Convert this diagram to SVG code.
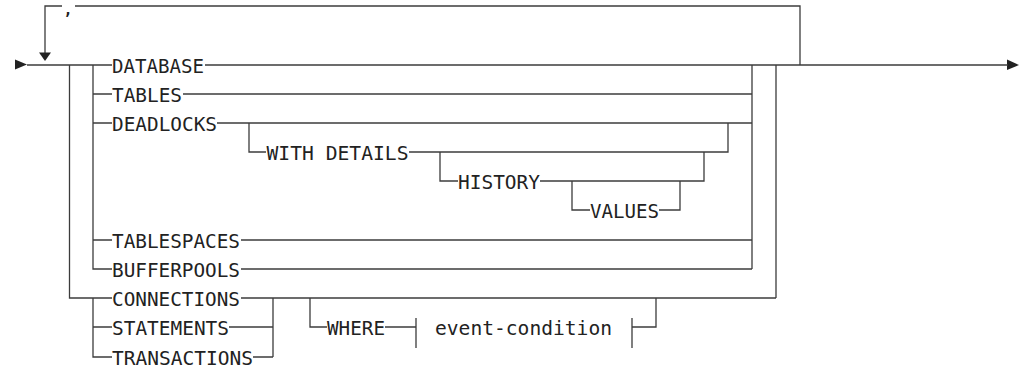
<svg xmlns="http://www.w3.org/2000/svg" width="1026" height="373" viewBox="0 0 1026 373">
<style>
.c{fill:none;stroke:#3c3c3c;stroke-width:1.3}
.t{font-family:"DejaVu Sans Mono","Liberation Mono",monospace;font-size:20px;fill:#222}
.a{fill:#222}
</style>
<rect width="1026" height="373" fill="#fff"/>
<g id="connectors">
<path class="c" d="M45,53V6H62M75,6H800V65"/>
<polygon class="a" points="39,52.5 51,52.5 45,61"/>
<polygon class="a" points="15,59.5 15,69.5 27,64.5"/>
<polygon class="a" points="1007,59.5 1007,70 1019,65"/>
<path class="c" d="M27,65H112M205,65H1008"/>
<path class="c" d="M69.5,65V298H112"/>
<path class="c" d="M93,65V269H112M93,94H112M93,123H112M93,240H112"/>
<path class="c" d="M183,94H752M217,123H752M241,240H752M241,269H752M752,65V269"/>
<path class="c" d="M241,298H776M776,65V298"/>
<path class="c" d="M249,123V152H266M409,152H728V123"/>
<path class="c" d="M440,152V181H458M540,181H704V152"/>
<path class="c" d="M572,181V210H590M659,210H680V181"/>
<path class="c" d="M93,298V357H112M93,327H112M229,327H273M253,357H273M273,298V357"/>
<path class="c" d="M310,298V327H327M385,327H416M632,327H656V298"/>
</g>
<g id="sep"><text class="t" x="68" y="14.5" text-anchor="middle" style="font-size:15px;font-weight:bold">,</text></g>
<g id="database"><text class="t" x="112" y="72.5" textLength="92" lengthAdjust="spacingAndGlyphs">DATABASE</text></g>
<g id="tables"><text class="t" x="112" y="101.5" textLength="70" lengthAdjust="spacingAndGlyphs">TABLES</text></g>
<g id="deadlocks"><text class="t" x="112" y="130.5" textLength="105" lengthAdjust="spacingAndGlyphs">DEADLOCKS</text></g>
<g id="withdetails"><text class="t" x="266.5" y="159.5" textLength="142" lengthAdjust="spacingAndGlyphs">WITH DETAILS</text></g>
<g id="history"><text class="t" x="458" y="188.5" textLength="82" lengthAdjust="spacingAndGlyphs">HISTORY</text></g>
<g id="values"><text class="t" x="590" y="217.5" textLength="69" lengthAdjust="spacingAndGlyphs">VALUES</text></g>
<g id="tablespaces"><text class="t" x="112" y="247.5" textLength="128" lengthAdjust="spacingAndGlyphs">TABLESPACES</text></g>
<g id="bufferpools"><text class="t" x="112" y="276.5" textLength="128" lengthAdjust="spacingAndGlyphs">BUFFERPOOLS</text></g>
<g id="connections"><text class="t" x="112" y="305.5" textLength="128" lengthAdjust="spacingAndGlyphs">CONNECTIONS</text></g>
<g id="statements"><text class="t" x="112" y="334.5" textLength="117" lengthAdjust="spacingAndGlyphs">STATEMENTS</text></g>
<g id="transactions"><text class="t" x="112" y="364.5" textLength="141" lengthAdjust="spacingAndGlyphs">TRANSACTIONS</text></g>
<g id="where"><text class="t" x="327" y="334.5" textLength="58" lengthAdjust="spacingAndGlyphs">WHERE</text></g>
<g id="event-condition">
<path class="c" d="M416,318V348M632,318V348"/>
<text class="t" x="435" y="334.5" textLength="177" lengthAdjust="spacingAndGlyphs">event-condition</text>
</g>
</svg>
